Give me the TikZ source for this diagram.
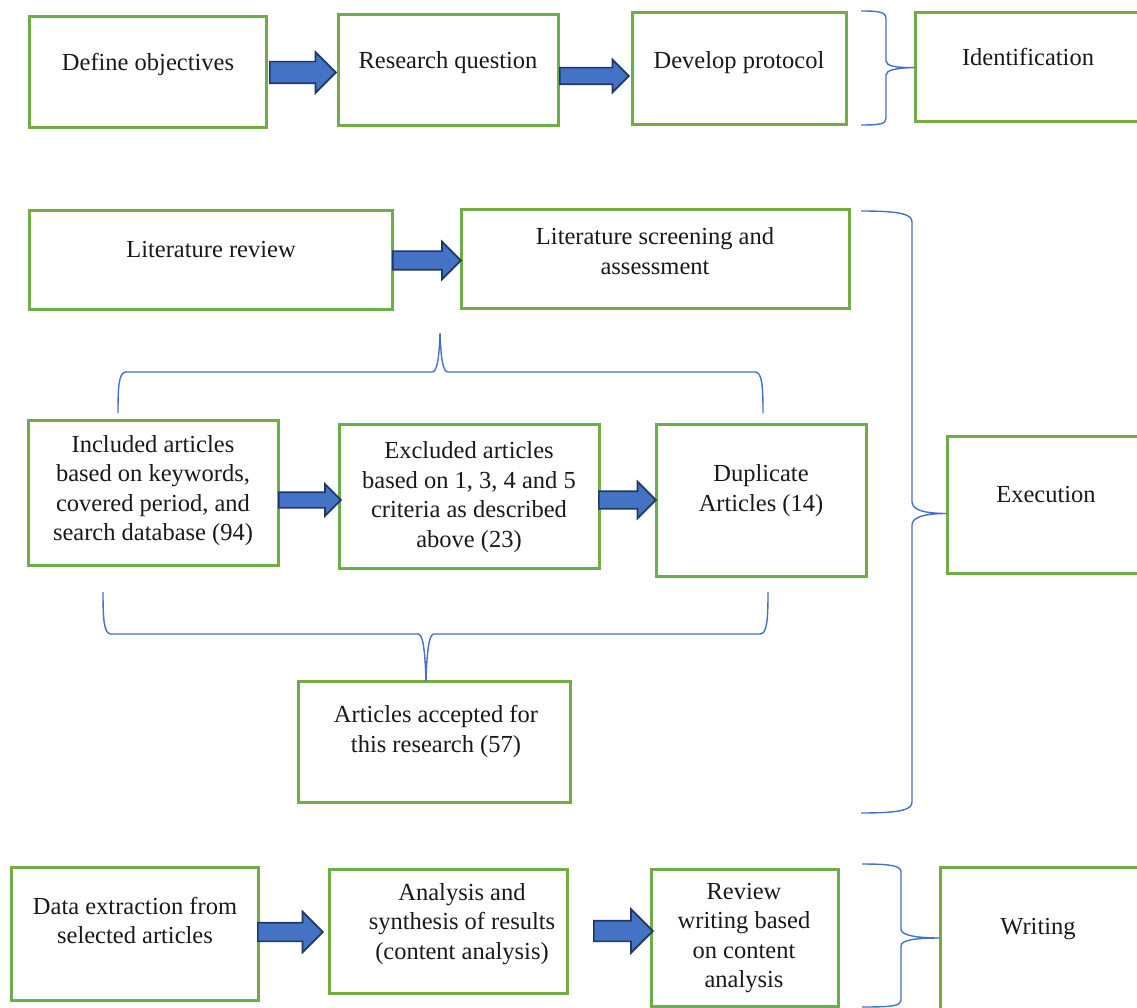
\documentclass[tikz,border=0pt]{standalone}
\usepackage{fontspec}
\setmainfont{Liberation Serif}
\usepackage{xcolor}
\usepackage{tikz}
\usetikzlibrary{shapes, arrows, positioning}

\definecolor{boxgreen}{RGB}{112,173,71}
\definecolor{arrowblue}{RGB}{68,114,196}
\definecolor{arrowdark}{RGB}{31,56,100}
\definecolor{braceblue}{RGB}{68,114,196}

\begin{document}
\begin{tikzpicture}[
    x=1pt, y=-1pt,
    % boxes, texts, block arrows and braces
    box/.style={
        rectangle,
        draw=boxgreen,
        line width=3pt,
        inner sep=0pt,
        outer sep=0pt
    },
    txt/.style={
        align=center,
        inner sep=0pt,
        text=black!90,
        font=\fontsize{24.5}{29.5}\selectfont
    },
    bigarrow/.style={
        single arrow,
        draw=arrowdark,
        fill=arrowblue,
        line width=1.7pt,
        inner xsep=0pt,
        inner ysep=8.5pt,
        single arrow head extend=9.5pt,
        anchor=tail
    },
    brace/.style={draw=braceblue, line width=1.4pt}
]
    \useasboundingbox (0,0) rectangle (1137,1008);

    % Identification
    \node [box, minimum width=237pt, minimum height=111pt] (obj) at (147.5,72.5) {};
    \node [box, minimum width=220pt, minimum height=111pt] (rq) at (448,70.5) {};
    \node [box, minimum width=214pt, minimum height=112pt] (proto) at (739,69) {};
    \node [box, minimum width=240pt, minimum height=109pt] (ident) at (1035,67.5) {};
    \node [txt] (objtxt) at (148,64) {Define objectives};
    \node [txt] (rqtxt) at (448,63) {Research question};
    \node [txt] (prototxt) at (739,63) {Develop protocol};
    \node [txt] (identtxt) at (1028,57) {Identification};

    % Execution
    \node [box, minimum width=363pt, minimum height=98pt] (litrev) at (210.5,260) {};
    \node [box, minimum width=388pt, minimum height=98pt] (screen) at (655,259) {};
    \node [box, minimum width=250pt, minimum height=145pt] (incl) at (153,492.5) {};
    \node [box, minimum width=260pt, minimum height=144pt] (excl) at (469,496) {};
    \node [box, minimum width=210pt, minimum height=152pt] (dup) at (761,500) {};
    \node [box, minimum width=272pt, minimum height=121pt] (acc) at (434,741.5) {};
    \node [box, minimum width=220pt, minimum height=137pt] (exec) at (1057,504.5) {};
    \node [txt] (litrevtxt) at (211,250) {Literature review};
    \node [txt] (screentxt) at (655,251) {Literature screening and\\assessment};
    \node [txt] (incltxt) at (153,490.5) {Included articles\\based on keywords,\\covered period, and\\search database (94)};
    \node [txt] (excltxt) at (469,497) {Excluded articles\\based on 1, 3, 4 and 5\\criteria as described\\above (23)};
    \node [txt] (duptxt) at (761,490.5) {Duplicate\\Articles (14)};
    \node [txt] (acctxt) at (436,731.5) {Articles accepted for\\this research (57)};
    \node [txt] (exectxt) at (1046,495) {Execution};

    % Writing
    \node [box, minimum width=247pt, minimum height=133pt] (data) at (134.5,933.5) {};
    \node [box, minimum width=238pt, minimum height=124pt] (anal) at (448,931) {};
    \node [box, minimum width=187pt, minimum height=137pt] (rev) at (744.5,937.5) {};
    \node [box, minimum width=220pt, minimum height=142pt] (writ) at (1050,938) {};
    \node [txt] (datatxt) at (135,920.5) {Data extraction from\\selected articles};
    \node [txt] (analtxt) at (462,924) {Analysis and\\synthesis of results\\(content analysis)};
    \node [txt] (revtxt) at (744,938) {Review\\writing based\\on content\\analysis};
    \node [txt] (writtxt) at (1038,929) {Writing};

    % Block arrows
    \node [bigarrow, inner ysep=10pt, minimum height=66pt] (a1) at ([xshift=3pt]obj.east) {};
    \node [bigarrow, inner ysep=7.5pt, single arrow head extend=8pt, minimum height=69pt] (a2) at ([xshift=1pt, yshift=-5.5pt]rq.east) {};
    \node [bigarrow, minimum height=68pt] (a3) at ([yshift=-0.5pt]litrev.east) {};
    \node [bigarrow, inner ysep=7pt, single arrow head extend=8pt, minimum height=62pt] (a4) at ([yshift=-7.5pt]incl.east) {};
    \node [bigarrow, inner ysep=8pt, minimum height=57pt] (a5) at ([xshift=-1pt, yshift=-4pt]excl.east) {};
    \node [bigarrow, single arrow head extend=11pt, minimum height=65pt] (a6) at ([xshift=-1pt, yshift=1.5pt]data.east) {};
    \node [bigarrow, inner ysep=9.5pt, single arrow head extend=11.5pt, minimum height=59pt] (a7) at ([xshift=26pt]anal.east) {};

    % Braces
    \draw [brace] (861,11) .. controls (880,11) and (886,12) .. (886,19) -- (886,61)
        .. controls (886,66) and (896,68) .. (ident.west)
        .. controls (896,68) and (886,70) .. (886,75) -- (886,118)
        .. controls (886,124) and (880,125) .. (861,125);
    \draw [brace] (861,211) .. controls (900,211) and (912,214) .. (912,222) -- (912,502)
        .. controls (912,510) and (925,513.5) .. ([yshift=-9pt]exec.west)
        .. controls (925,513.5) and (912,517) .. (912,525) -- (912,802)
        .. controls (912,810) and (900,813) .. (861,813);
    \draw [brace] (862,864) .. controls (892,864) and (901,866) .. (901,872) -- (901,929)
        .. controls (901,935) and (915,938) .. (writ.west)
        .. controls (915,938) and (901,940) .. (901,946) -- (901,1000)
        .. controls (901,1006) and (892,1007) .. (862,1007);
    \draw [brace] (118,413) .. controls (118,385) and (119,372) .. (126,372) -- (432,372)
        .. controls (437,372) and (439,360) .. (440,333)
        .. controls (441,360) and (443,372) .. (448,372) -- (755,372)
        .. controls (762,372) and (763,385) .. (763,413);
    \draw [brace] (103,592) .. controls (103,620) and (104,634) .. (111,634) -- (418,634)
        .. controls (423,634) and (425,650) .. ([xshift=-8pt]acc.north)
        .. controls (427,650) and (429,634) .. (434,634) -- (760,634)
        .. controls (767,634) and (768,620) .. (768,592);
\end{tikzpicture}
\end{document}
